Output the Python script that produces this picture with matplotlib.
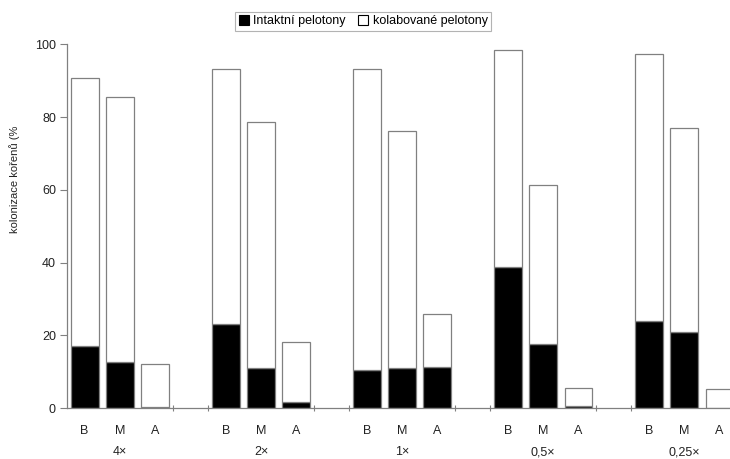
import numpy as np
import matplotlib.pyplot as plt
from matplotlib.transforms import blended_transform_factory

plt.rcParams['font.family'] = ['Liberation Sans', 'DejaVu Sans']

groups = ['4×', '2×', '1×', '0,5×', '0,25×']
parts = ['B', 'M', 'A']

# intact pelotons (black) and total colonisation (bar top), per group B, M, A
intact = [[17.0, 12.6, 0.4],
          [23.2, 10.9, 1.6],
          [10.5, 11.0, 11.3],
          [38.8, 17.7, 0.7],
          [24.0, 20.9, 0.0]]
total = [[90.8, 85.4, 12.0],
         [93.1, 78.7, 18.1],
         [93.3, 76.3, 25.8],
         [98.4, 61.3, 5.5],
         [97.3, 77.1, 5.3]]

intact = np.array(intact)
collapsed = np.array(total) - intact

# every group takes four category slots, the fourth left empty
pos = np.array([[g * 4 + i for i in range(3)] for g in range(len(groups))])

fig = plt.figure(figsize=(7.3, 4.59), dpi=100)
ax = fig.add_axes([0.0918, 0.111, 0.918, 0.7925])

edge = '#808080'
txt = '#222222'
ax.bar(pos.ravel(), intact.ravel(), width=0.79, color='black', edgecolor=edge,
       linewidth=0.9, label='Intaktní pelotony')
ax.bar(pos.ravel(), collapsed.ravel(), width=0.79, bottom=intact.ravel(),
       color='white', edgecolor=edge, linewidth=0.9, label='kolabované pelotony')

ax.set_xlim(-0.5, 18.5)
ax.set_ylim(0, 100)
ax.set_yticks([0, 20, 40, 60, 80, 100])

# category labels under the bars, tick marks around the empty slots
ax.set_xticks(pos.ravel())
ax.set_xticklabels(parts * len(groups))
gap_edges = [g * 4 + e for g in range(len(groups) - 1) for e in (2.5, 3.5)]
ax.set_xticks(gap_edges, minor=True)
ax.tick_params(axis='x', which='major', length=0, pad=12)
ax.tick_params(axis='x', which='minor', length=5, color=edge, width=0.8,
               direction='inout')
ax.tick_params(axis='y', length=5, color=edge, width=0.8, pad=3)
ax.tick_params(labelsize=9, labelcolor=txt)

trans = blended_transform_factory(ax.transData, ax.transAxes)
for g, name in enumerate(groups):
    ax.text(pos[g, 1], -0.121, name, transform=trans, ha='center', va='center',
            fontsize=9, color=txt)

for side in ['top', 'right']:
    ax.spines[side].set_visible(False)
for side in ['left', 'bottom']:
    ax.spines[side].set_color(edge)
    ax.spines[side].set_linewidth(0.9)

ax.set_ylabel('kolonizace kořenů (%', fontsize=8, color=txt)
ax.yaxis.set_label_coords(-0.07, 0.63)

leg = ax.legend(loc='center', bbox_to_anchor=(0.442, 1.063), ncol=2,
                fontsize=9, frameon=True, fancybox=False, handlelength=0.8,
                handleheight=0.8, handletextpad=0.35, columnspacing=1.0,
                borderpad=0.3, borderaxespad=0)
leg.get_frame().set_edgecolor('#a0a0a0')
leg.get_frame().set_linewidth(0.8)
for h in leg.legend_handles:
    h.set_edgecolor('black')
    h.set_linewidth(0.8)

fig.savefig('out.png', dpi=100)
